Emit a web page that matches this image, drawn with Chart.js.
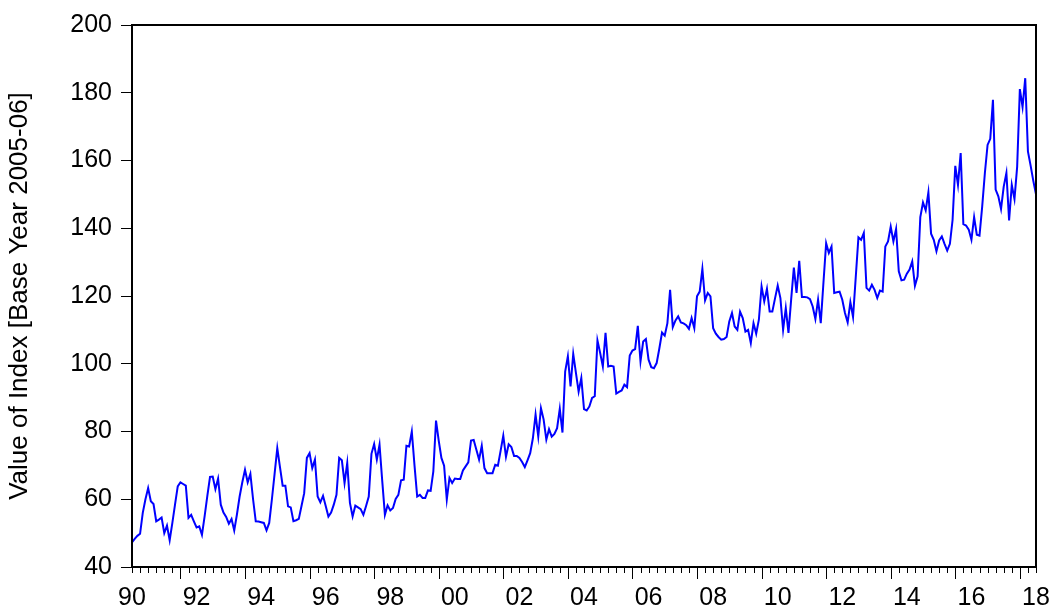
<!DOCTYPE html>
<html><head><meta charset="utf-8">
<script src="https://cdn.jsdelivr.net/npm/chart.js@4/dist/chart.umd.min.js"></script>
<style>html,body{margin:0;padding:0;background:#fff;overflow:hidden;} #wrap{width:1053px;height:615px;}</style>
</head><body><div id="wrap"><canvas id="c" width="1053" height="615"></canvas></div>
<script>
// Monthly values, 1990m1 .. 2018m1
const y1990 = [47.3,48.3,49.2,49.8,56,60,63.3,59.4,58.6,53.5,54,54.6];
const y1991 = [50,52.2,47.9,53,58.5,63.8,65,64.5,64,54.5,55.4,53.5];
const y1992 = [51.7,52,49.5,55,61,66.6,66.7,63,66.1,58.4,56.1,54.8];
const y1993 = [52.8,54.2,50.8,55.5,60.8,65,68.7,65,67.5,60,53.5,53.4];
const y1994 = [53.2,53,50.8,53,60,67.5,75.1,69.5,64,64,57.9,57.6];
const y1995 = [53.5,53.8,54.2,58,61.8,72.2,73.6,69.2,71.7,60.8,59.1,61];
const y1996 = [58,54.9,56.1,58.4,61.3,72.2,71.5,64.8,70.7,58.9,54.9,58.1];
const y1997 = [57.6,57.1,55.4,58,60.8,73.4,76.3,71.7,76.1,65.5,55.4,58.2];
const y1998 = [56.7,57.4,60.1,61.3,65.6,65.8,75.8,75.6,80,70,60.8,61.3];
const y1999 = [60.4,60.4,62.6,62.5,68.2,83.2,77.3,72.2,69.9,59.9,66.3,64.8];
const y2000 = [66.1,66,66,68.5,69.7,70.9,77.3,77.5,74.6,71.7,75.8,69.2];
const y2001 = [67.7,67.7,67.7,70.2,69.9,74.3,78.8,72.5,76.2,75.4,72.8,72.8];
const y2002 = [72.2,71,69.5,71.5,73.6,78,85,78.5,86.9,83.5,77.6,80.7];
const y2003 = [78.5,79.3,81,86.7,79.7,97.7,102.2,93.3,102.9,97.3,91.8,95.8];
const y2004 = [86.6,86.2,87.4,89.9,90.4,106.9,103.2,99.2,109.1,99.2,99.4,99.2];
const y2005 = [91.2,91.7,92.1,93.8,93.1,102.4,103.9,104.3,111.2,100.7,106.6,107.3];
const y2006 = [101.2,99,98.7,100.2,104.5,109.2,108.3,112,121.8,110.8,112.8,114];
const y2007 = [112.2,111.9,111.4,110.3,113.5,110.5,119.9,121.3,128,118.7,120.9,119.9];
const y2008 = [110.5,108.9,107.9,107.1,107.3,107.9,112.5,115,111,110,115.4,113.5];
const y2009 = [109.5,110,106.1,112,108.9,113,122.8,118.4,122.1,115.4,115.4,119.3];
const y2010 = [123.1,119.4,110,116.4,109.1,119,128.4,120.9,130.4,119.7,119.7,119.6];
const y2011 = [119.1,116.9,113.2,118.9,112,124,135.6,132.7,134.6,120.9,121.1,121.3];
const y2012 = [118.9,115,112.2,118.2,113.8,125.5,137.3,136.6,138.6,122.4,121.6,123.3];
const y2013 = [121.8,119.4,121.6,121.3,134.6,136.1,140.5,136.1,139.8,127.3,124.6,124.8];
const y2014 = [126.6,127.8,130.2,123,125.8,143.3,147.6,145.3,150.6,138.4,136.6,133.2];
const y2015 = [136.4,137.6,135.4,133.4,135.4,142.5,158.4,152.8,162.2,141.2,140.8,139.6];
const y2016 = [136.6,143.3,138.1,137.8,146.4,156.3,164.6,166.4,177.9,151.4,149.4,145.7];
const y2017 = [152.3,156.3,142.3,152.8,148.6,158.2,181.1,175.8,184.3,162.7,158.5,154];
const y2018 = [150];

const xTickLabels = ['90','92','94','96','98','00','02','04','06','08','10','12','14','16','18'];
const yTickValues = [40,60,80,100,120,140,160,180,200];
const yTitle = 'Value of Index [Base Year 2005-06]';

const values = [].concat(y1990,y1991,y1992,y1993,y1994,y1995,y1996,y1997,y1998,y1999,
  y2000,y2001,y2002,y2003,y2004,y2005,y2006,y2007,y2008,y2009,
  y2010,y2011,y2012,y2013,y2014,y2015,y2016,y2017,y2018);
const points = values.map((v,i)=>({x:i,y:v}));
const lastIdx = values.length - 1;

const FONT = 'Liberation Sans, Arial, sans-serif';

const framePlugin = {
  id: 'frame',
  afterDraw(chart) {
    const {ctx, chartArea: a} = chart;
    const xs = chart.scales.x;
    ctx.save();
    ctx.strokeStyle = '#000';
    ctx.lineWidth = 1;
    for (let m = 0; m <= lastIdx; m += 3) {
      const px = Math.round(xs.getPixelForValue(m)) + 0.5;
      const major = (m % 24) === 18;
      ctx.beginPath();
      ctx.moveTo(px, a.bottom);
      ctx.lineTo(px, a.bottom + (major ? 12 : 6));
      ctx.stroke();
    }
    ctx.lineWidth = 2;
    ctx.strokeRect(a.left, a.top, a.right - a.left, a.bottom - a.top);
    ctx.restore();
  }
};

new Chart(document.getElementById('c'), {
  type: 'line',
  data: { datasets: [{
    data: points,
    borderColor: '#0000ff',
    borderWidth: 2,
    pointRadius: 0,
    tension: 0,
    fill: false
  }]},
  options: {
    responsive: false,
    animation: false,
    devicePixelRatio: 1,
    layout: { padding: { left: 0, right: 17, top: 25, bottom: 0 } },
    plugins: { legend: { display: false }, tooltip: { enabled: false } },
    scales: {
      x: {
        type: 'linear', min: 0, max: lastIdx,
        grid: { drawOnChartArea: false, drawTicks: false },
        border: { display: false },
        afterBuildTicks: s => { s.ticks = xTickLabels.map((_,k)=>({value:k*24})); },
        afterFit: s => { s.height = 48; s.paddingLeft = 0; s.paddingRight = 0; },
        ticks: {
          autoSkip: false, maxRotation: 0, padding: 16, color: '#000',
          font: { family: FONT, size: 25 },
          callback: v => xTickLabels[Math.round(v/24)]
        }
      },
      y: {
        min: 40, max: 200,
        afterBuildTicks: s => { s.ticks = yTickValues.map(v=>({value:v})); },
        afterFit: s => { s.width = 132; s.paddingTop = 0; s.paddingBottom = 0; },
        grid: { drawOnChartArea: false, tickLength: 11, tickColor: '#000', tickWidth: 1 },
        border: { display: false },
        ticks: { padding: 9, color: '#000', font: { family: FONT, size: 25 } },
        title: { display: true, text: yTitle, color: '#000', font: { family: FONT, size: 26 }, padding: { top: 4, bottom: 0 } }
      }
    }
  },
  plugins: [framePlugin]
});
</script>
</body></html>
